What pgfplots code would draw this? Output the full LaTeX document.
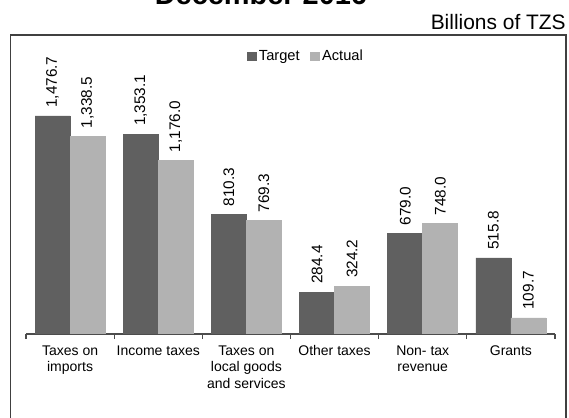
\documentclass[border=0pt]{standalone}
\usepackage{pgfplots}
\pgfplotsset{compat=1.18}
\usepackage{fontspec}
\setmainfont{Liberation Sans}
\definecolor{target}{HTML}{606060}
\definecolor{actual}{HTML}{B2B2B2}
\begin{document}
\begin{tikzpicture}
% (0,0) is the centre of the first category on the baseline; 1 px of the 569x418 image = 0.75pt
\useasboundingbox (-52.56pt,-63pt) rectangle (374.19pt,250.5pt);
\clip (-52.56pt,-63pt) rectangle (374.19pt,250.5pt);
\begin{scope}[x=0.75pt,y=0.75pt]
% outer frame (cut off at the bottom)
\draw[line width=0.8pt, black!75] (-59.4,-95) -- (-59.4,299) -- (495.9,299) -- (495.9,-95);
\node[anchor=base, font=\bfseries\fontsize{21.7}{26}\selectfont, inner sep=0pt] at (190.9,329.5) {December 2016};
\node[anchor=base east, font=\fontsize{15.7}{19}\selectfont, inner sep=0pt] at (495.9,304.5) {Billions of TZS};
\end{scope}
\begin{axis}[
    at={(0,0)}, anchor=origin,
    scale only axis,
    width=396.75pt, height=221.5pt,
    ybar=0pt,
    bar width=26.25pt,
    ymin=0, ymax=2000,
    xmin=-0.5, xmax=5.5,
    axis x line*=bottom,
    axis y line=none,
    x axis line style={black!70, line width=0.8pt},
    xtick={-0.5,0.5,...,5.5},
    xticklabels={},
    extra x ticks={0,1,2,3,4,5},
    extra x tick labels={Taxes on\\imports, Income taxes, Taxes on\\local goods\\and services, Other taxes, Non- tax\\revenue, Grants},
    extra x tick style={major tick length=0pt, tick label style={align=center, font=\fontsize{10.5}{12.5}\selectfont, yshift=-5pt}},
    major tick length=3.75pt,
    tick style={black!70, line width=0.8pt},
    xtick pos=bottom,
    tick align=outside,
    nodes near coords,
    every node near coord/.append style={rotate=90, anchor=west, font=\fontsize{11.5}{13}\selectfont, inner xsep=6pt},
    /pgf/number format/.cd, fixed, fixed zerofill, precision=1, 1000 sep={,}, assume math mode=true,
    /pgfplots/.cd,
    legend style={draw=none, at={(0.53,0.94)}, anchor=center, legend columns=2, font=\fontsize{11}{13}\selectfont, /tikz/every even column/.append style={column sep=6pt}},
    legend image code/.code={\fill[#1] (0pt,-3.2pt) rectangle (6.4pt,3.2pt);},
    legend cell align=left,
]
\addplot[fill=target, draw=target] coordinates {(0,1476.7) (1,1353.1) (2,810.3) (3,284.4) (4,679.0) (5,515.8)};
\addplot[fill=actual, draw=actual] coordinates {(0,1338.5) (1,1176.0) (2,769.3) (3,324.2) (4,748.0) (5,109.7)};
\legend{Target, Actual}
\end{axis}
\end{tikzpicture}
\end{document}
